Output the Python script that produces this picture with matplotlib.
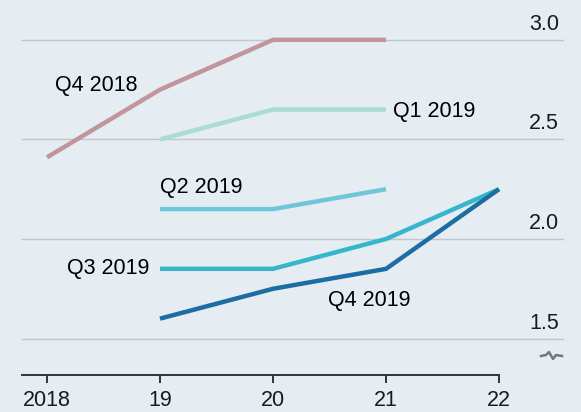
import matplotlib
matplotlib.use("Agg")
import matplotlib.pyplot as plt

# values
years = [2018, 2019, 2020, 2021, 2022]
tick_labels = ["2018", "19", "20", "21", "22"]

q4_2018_x = [2018, 2019, 2020, 2021]
q4_2018 = [2.41, 2.75, 3.0, 3.0]
q1_2019_x = [2019, 2020, 2021]
q1_2019 = [2.5, 2.65, 2.65]
q2_2019_x = [2019, 2020, 2021]
q2_2019 = [2.15, 2.15, 2.25]
q3_2019_x = [2019, 2020, 2021, 2022]
q3_2019 = [1.85, 1.85, 2.0, 2.25]
q4_2019_x = [2019, 2020, 2021, 2022]
q4_2019 = [1.6, 1.75, 1.85, 2.25]

grid_vals = [1.5, 2.0, 2.5, 3.0]
grid_labels = ["1.5", "2.0", "2.5", "3.0"]

bg = "#e5edf3"
fs = 15.5
plt.rcParams['font.family'] = ['Liberation Sans', 'DejaVu Sans']

fig = plt.figure(figsize=(5.81, 4.12), dpi=100, facecolor=bg)
ax = fig.add_axes([0, 37 / 412, 1, 375 / 412])
ax.set_facecolor(bg)

W = 581.0
def px_to_year(px):
    return 2018 + (px - 47) / 113.0

ax.set_xlim(px_to_year(0), px_to_year(W))
ax.set_ylim(1.317, 3.2)

for v in grid_vals:
    ax.axhline(v, xmin=22 / W, xmax=563 / W, color="#c0c7cc", lw=1.0, zorder=1)
for v, lab in zip(grid_vals, grid_labels):
    ax.text(559 / W, v + 0.025, lab, transform=ax.get_yaxis_transform(),
            ha="right", va="bottom", fontsize=fs, color="#1a1a1a")

lw = 3.2
ax.plot(q4_2018_x, q4_2018, color="#c1959b", lw=lw, solid_capstyle="butt", zorder=3)
ax.plot(q1_2019_x, q1_2019, color="#a9dcd7", lw=lw, solid_capstyle="butt", zorder=3)
ax.plot(q2_2019_x, q2_2019, color="#6fc6d9", lw=lw, solid_capstyle="butt", zorder=3)
ax.plot(q3_2019_x, q3_2019, color="#37b5cb", lw=lw, solid_capstyle="butt", zorder=4)
ax.plot(q4_2019_x, q4_2019, color="#1c6da2", lw=lw, solid_capstyle="butt", zorder=5)

ax.text(2018.07, 2.77, "Q4 2018", fontsize=fs, va="center", ha="left")
ax.text(2021.06, 2.64, "Q1 2019", fontsize=fs, va="center", ha="left")
ax.text(2019.0, 2.26, "Q2 2019", fontsize=fs, va="center", ha="left")
ax.text(2018.91, 1.85, "Q3 2019", fontsize=fs, va="center", ha="right")
ax.text(2020.49, 1.69, "Q4 2019", fontsize=fs, va="center", ha="left")

# axis break squiggle
sq_x = [541, 546, 549, 553, 556, 562]
sq_y = [356, 355, 352, 359, 355, 356]
ax.plot([x / W for x in sq_x], [(375 - y) / 375.0 for y in sq_y],
        transform=ax.transAxes, color="#777777", lw=1.8, clip_on=False)

for s in ["top", "right", "left"]:
    ax.spines[s].set_visible(False)
ax.spines["bottom"].set_color("#333333")
ax.spines["bottom"].set_linewidth(1.4)
ax.spines["bottom"].set_bounds(px_to_year(22), 2022)

ax.set_yticks([])
ax.set_xticks(years)
ax.set_xticklabels(tick_labels)
ax.tick_params(axis="x", direction="out", length=6, width=1.4, color="#333333",
               pad=5, labelsize=fs, labelcolor="#1a1a1a")

fig.savefig("out.png", dpi=100, facecolor=bg)
